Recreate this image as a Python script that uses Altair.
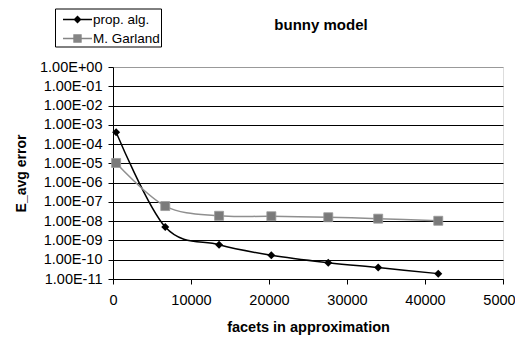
import altair as alt
import pandas as pd

facets = [400, 6700, 13600, 20300, 27600, 34000, 41700]
prop_alg = [4.1e-4, 5.0e-9, 6.0e-10, 1.7e-10, 7.0e-11, 3.9e-11, 1.9e-11]
garland = [1.05e-5, 6.1e-8, 1.9e-8, 1.8e-8, 1.6e-8, 1.35e-8, 1.05e-8]
series = ["prop. alg.", "M. Garland"]
y_ticks = [1e0, 1e-1, 1e-2, 1e-3, 1e-4, 1e-5, 1e-6, 1e-7, 1e-8, 1e-9, 1e-10, 1e-11]
x_ticks = [0, 10000, 20000, 30000, 40000, 50000]

rows = []
for f, v in zip(facets, prop_alg):
    rows.append({"facets": f, "err": v, "series": series[0]})
for f, v in zip(facets, garland):
    rows.append({"facets": f, "err": v, "series": series[1]})
df = pd.DataFrame(rows)

FONT = "Liberation Sans"

label_expr = ("'1.00E' + (datum.value < 0.5 ? '-' : '+') + "
              "(abs(round(log(datum.value)/LN10)) < 10 ? '0' : '') + "
              "abs(round(log(datum.value)/LN10))")

x_enc = alt.X("facets:Q",
              scale=alt.Scale(domain=[0, 50000], nice=False, zero=True),
              axis=alt.Axis(values=x_ticks, format="d", grid=False,
                            title="facets in approximation",
                            titleFont=FONT, titleFontSize=14.5, titleFontWeight="bold",
                            titleColor="black", titlePadding=14,
                            labelFont=FONT, labelFontSize=14.5, labelColor="black",
                            labelPadding=9, tickSize=5, tickColor="black",
                            domainColor="black", labelFlush=False))
y_enc = alt.Y("err:Q",
              scale=alt.Scale(type="log", domain=[1e-11, 1], nice=False),
              axis=alt.Axis(values=y_ticks, labelExpr=label_expr,
                            grid=True,
                            gridColor=alt.condition(alt.datum.value > 0.5,
                                                    alt.value("#999999"),
                                                    alt.value("black")),
                            gridWidth=1,
                            title="E_avg error",
                            titleFont=FONT, titleFontSize=14, titleFontWeight="bold",
                            titleColor="black", titlePadding=11,
                            labelFont=FONT, labelFontSize=14.5, labelColor="black",
                            labelPadding=6, tickSize=5, tickColor="black",
                            domainColor="black"))

LINE_COLS = ["#000000", "#8f8f8f"]
POINT_COLS = ["#000000", "#7a7a7a"]
LEGEND_COLS = ["#000000", "#858585"]

diamond_sym = "M-0.3,-0.075H2.6V0.075H-0.3Z M1.15,-0.4L1.55,0L1.15,0.4L0.75,0Z"
square_sym = "M-0.3,-0.075H2.6V0.075H-0.3Z M0.73,-0.42H1.57V0.42H0.73Z"

legend = alt.Legend(
    title=None, orient="none", legendX=-58, legendY=-58.5,
    labelFont=FONT, labelFontSize=13.5, labelColor="black",
    symbolSize=400, labelOffset=17, padding=1, rowPadding=2,
    strokeColor="black", fillColor="white",
    symbolOpacity=1, symbolStrokeWidth=0,
)


def series_filter(i):
    return alt.datum.series == series[i]


line_prop = alt.Chart(df).transform_filter(series_filter(0)).mark_line(
    interpolate="cardinal", strokeWidth=1.5, color=LINE_COLS[0]
).encode(x=x_enc, y=y_enc)

line_garl = alt.Chart(df).transform_filter(series_filter(1)).mark_line(
    interpolate="cardinal", strokeWidth=1.5, color=LINE_COLS[1]
).encode(x=x_enc, y=y_enc)

pts_prop = alt.Chart(df).transform_filter(series_filter(0)).mark_point(
    shape="diamond", filled=True, opacity=1, size=64, color=POINT_COLS[0]
).encode(x=x_enc, y=y_enc)

pts_garl = alt.Chart(df).transform_filter(series_filter(1)).mark_point(
    shape="square", filled=True, opacity=1, size=81, color=POINT_COLS[1],
    stroke="#9a9a9a", strokeWidth=0.8
).encode(x=x_enc, y=y_enc)

legend_layer = alt.Chart(df).mark_point(filled=True, opacity=0).encode(
    x=x_enc, y=y_enc,
    color=alt.Color("series:N", scale=alt.Scale(domain=series, range=LEGEND_COLS), legend=legend),
    shape=alt.Shape("series:N", scale=alt.Scale(domain=series, range=[diamond_sym, square_sym]), legend=legend),
)

chart = alt.layer(line_prop, line_garl, pts_prop, pts_garl, legend_layer).properties(
    width=390, height=212,
    autosize=alt.AutoSizeParams(type="none"),
    padding={"left": 105, "top": 59, "right": 12, "bottom": 58},
    title=alt.TitleParams("bunny model", font=FONT, fontSize=15, fontWeight="bold",
                          color="black", anchor="middle", dx=13, offset=-25),
).configure_view(stroke="#999999", strokeWidth=1.5).configure(background="white")

chart.save("out.html", embed_options={"renderer": "svg", "actions": False})
